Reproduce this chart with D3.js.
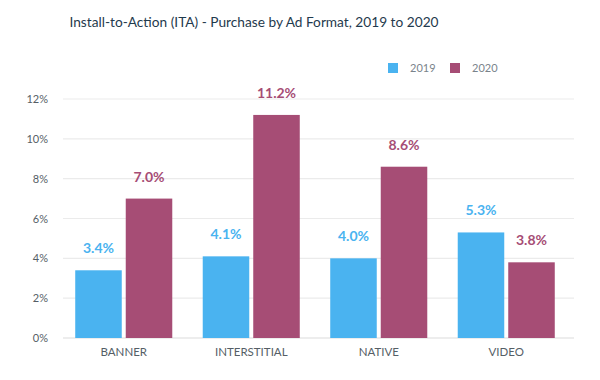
<!DOCTYPE html>
<html>
<head>
<meta charset="utf-8">
<script src="https://cdn.jsdelivr.net/npm/d3@7"></script>
<style>
  body { margin: 0; background: #fff; }
  svg text { font-family: Lato, "Open Sans", sans-serif; }
</style>
</head>
<body>
<script>
const categories = ["BANNER", "INTERSTITIAL", "NATIVE", "VIDEO"];
const seriesNames = ["2019", "2020"];
const values2019 = [3.4, 4.1, 4.0, 5.3];
const values2020 = [7.0, 11.2, 8.6, 3.8];
const yTicks = [0, 2, 4, 6, 8, 10, 12];
const titleText = "Install-to-Action (ITA) - Purchase by Ad Format, 2019 to 2020";

const colors = { "2019": "#4ab3f0", "2020": "#a64d75" };

const width = 600, height = 380;
const svg = d3.select("body").append("svg")
    .attr("width", width)
    .attr("height", height);

const rows = categories.map((c, i) => ({
    category: c,
    items: [
        { series: "2019", value: values2019[i] },
        { series: "2020", value: values2020[i] }
    ]
}));

const x0 = d3.scaleBand()
    .domain(categories)
    .range([60, 570])
    .paddingInner(0.239)
    .paddingOuter(0.1195);

const x1 = d3.scaleBand()
    .domain(seriesNames)
    .range([0, x0.bandwidth()])
    .paddingInner(0.079);

const y = d3.scaleLinear()
    .domain([0, 12])
    .range([338, 99]);

// gridlines
svg.append("g")
    .selectAll("line")
    .data(yTicks)
    .enter()
    .append("line")
    .attr("x1", 63)
    .attr("x2", 574)
    .attr("y1", d => y(d))
    .attr("y2", d => y(d))
    .attr("stroke", d => d === 0 ? "#dcdcdc" : "#ebebeb")
    .attr("stroke-width", 1.2);

// y axis labels
const yAxis = svg.append("g")
    .attr("transform", "translate(48,0)")
    .call(d3.axisLeft(y).tickValues(yTicks).tickFormat(d => d + "%").tickSize(0).tickPadding(0));
yAxis.select(".domain").remove();
yAxis.selectAll("text")
    .attr("fill", "#555e66")
    .style("font-size", "11px");

// x axis labels
const xAxis = svg.append("g")
    .attr("transform", "translate(0,348)")
    .call(d3.axisBottom(x0).tickSize(0).tickPadding(0));
xAxis.select(".domain").remove();
xAxis.selectAll("text")
    .attr("dy", "0.71em")
    .attr("fill", "#555e66")
    .style("font-size", "11.5px");

// bars
const groups = svg.append("g")
    .selectAll("g")
    .data(rows)
    .enter()
    .append("g")
    .attr("transform", d => `translate(${x0(d.category)},0)`);

groups.selectAll("rect")
    .data(d => d.items)
    .enter()
    .append("rect")
    .attr("x", d => x1(d.series))
    .attr("y", d => y(d.value))
    .attr("width", x1.bandwidth())
    .attr("height", d => y(0) - y(d.value))
    .attr("fill", d => colors[d.series]);

groups.selectAll("text")
    .data(d => d.items)
    .enter()
    .append("text")
    .attr("x", d => x1(d.series) + x1.bandwidth() / 2)
    .attr("y", d => y(d.value) - 17)
    .attr("text-anchor", "middle")
    .attr("fill", d => colors[d.series])
    .style("font-size", "14px")
    .style("font-weight", "bold")
    .text(d => d.value.toFixed(1) + "%");

// title
svg.append("text")
    .attr("x", 254)
    .attr("y", 27)
    .attr("text-anchor", "middle")
    .attr("fill", "#1f3a4d")
    .style("font-size", "13.7px")
    .text(titleText);

// legend
const legend = svg.append("g")
    .selectAll("g")
    .data(seriesNames)
    .enter()
    .append("g")
    .attr("transform", (d, i) => `translate(${388 + i * 62},63)`);

legend.append("rect")
    .attr("width", 10)
    .attr("height", 10)
    .attr("fill", d => colors[d]);

legend.append("text")
    .attr("x", 22)
    .attr("y", 9)
    .attr("fill", "#7a838b")
    .style("font-size", "11px")
    .text(d => d);
</script>
</body>
</html>
